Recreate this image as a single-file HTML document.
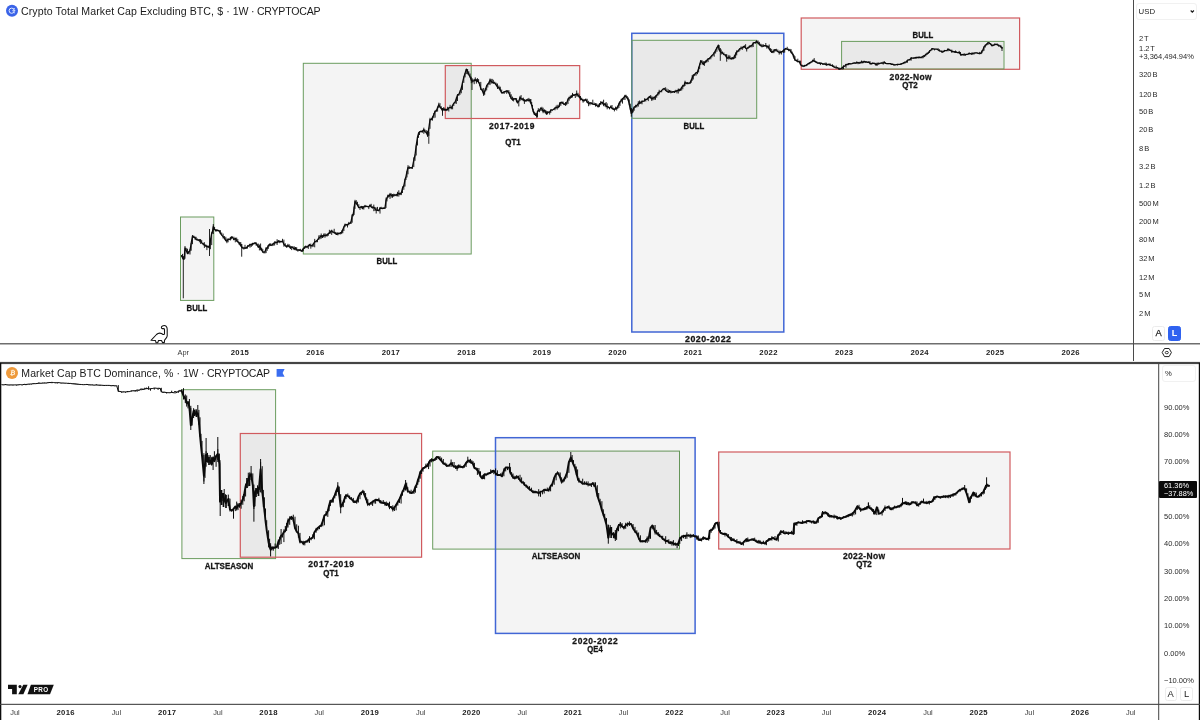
<!DOCTYPE html>
<html lang="en"><head><meta charset="utf-8"><title>Crypto Total Market Cap Excluding BTC vs BTC Dominance</title>
<style>
html,body{margin:0;padding:0;background:#fff}
body{width:1200px;height:720px;position:relative;overflow:hidden;font-family:"Liberation Sans","DejaVu Sans",sans-serif;color:#131722}
#chart{position:absolute;left:0;top:0;width:1200px;height:720px}
.title{position:absolute;left:21px;font-size:10.58px;line-height:14px;white-space:nowrap;color:#1a1a1a}
.ann{position:absolute;width:120px;height:12px;line-height:12px;text-align:center;font-weight:bold;color:#161616;white-space:nowrap;-webkit-text-stroke:0.28px #161616}
.tl{position:absolute;width:60px;text-align:center;font-size:7.4px;line-height:12px;color:#3a3a3a;white-space:nowrap}
.tl.b{font-weight:bold;font-size:7.7px;letter-spacing:.35px;color:#1c1c1c}
.pl{position:absolute;font-size:7.5px;line-height:10px;color:#2a2a2a;white-space:nowrap;word-spacing:-1.1px}
.btn{position:absolute;box-sizing:border-box;border:1px solid #ececec;border-radius:2.5px;background:#fff;font-size:9.4px;text-align:center;color:#1a1a1a}
.btn.on{background:#2f62f0;border-color:#2f62f0;color:#fff;font-weight:bold}
.unit{position:absolute;box-sizing:border-box;border:1px solid #f1f1f1;border-radius:3px;background:transparent;font-size:8.2px;color:#222}
.last{position:absolute;left:1159px;top:481px;width:37.8px;height:16.5px;background:#0a0a0a;border-radius:1px;color:#fff;font-size:7.4px;line-height:7.6px;box-sizing:border-box;padding:1.2px 0 0 5px;white-space:nowrap}
</style></head>
<body>
<svg id="chart" width="1200" height="720" viewBox="0 0 1200 720">
<!-- top pane annotations -->
<g shape-rendering="geometricPrecision">
<rect x="180.5" y="217" width="33.3" height="83.4" fill="rgba(0,0,0,0.045)" stroke="#6a9c5e" stroke-width="1"/>
<rect x="303.3" y="63.3" width="167.9" height="190.7" fill="rgba(0,0,0,0.045)" stroke="#6a9c5e" stroke-width="1"/>
<rect x="445.3" y="65.6" width="134.4" height="52.9" fill="rgba(0,0,0,0.045)" stroke="#d05a5e" stroke-width="1.2"/>
<rect x="631.8" y="33.3" width="152.0" height="298.7" fill="rgba(0,0,0,0.045)" stroke="#4166d5" stroke-width="1.5"/>
<rect x="631.8" y="40.3" width="124.9" height="78.0" fill="rgba(0,0,0,0.045)" stroke="#6a9c5e" stroke-width="1"/>
<rect x="801.2" y="18" width="218.4" height="51.3" fill="rgba(0,0,0,0.045)" stroke="#d05a5e" stroke-width="1.2"/>
<rect x="841.6" y="41.4" width="162.4" height="27.6" fill="rgba(0,0,0,0.045)" stroke="#6a9c5e" stroke-width="1"/>
</g>
<!-- top pane price -->
<polyline points="181.7,255.7 182.5,257.8 183.3,258.9 184.2,258.2 185.0,248.0 186.2,250.6 187.5,253.7 188.8,252.0 190.0,250.4 191.2,243.1 192.5,235.9 193.8,237.2 195.0,237.7 196.1,239.5 197.2,239.8 198.3,240.2 199.4,239.8 200.6,240.9 201.7,243.0 203.1,243.8 204.4,245.2 205.8,245.8 206.9,246.8 208.1,246.5 209.2,247.6 210.4,240.7 211.7,233.1 212.5,231.3 213.3,226.9 214.6,229.6 215.8,230.6 216.9,230.2 218.1,230.5 219.2,230.8 220.4,233.4 221.7,235.1 223.1,236.6 224.4,238.1 225.8,240.6 226.9,241.2 228.1,239.1 229.2,239.3 230.3,239.0 231.4,236.9 232.5,237.5 233.9,239.6 235.3,238.2 236.7,240.7 237.8,241.9 238.9,242.5 240.0,244.4 240.8,245.8 241.7,247.0 242.8,248.1 243.9,248.0 245.0,247.9 246.2,248.0 247.5,246.5 248.8,245.7 250.0,244.5 251.2,245.0 252.5,243.7 253.8,243.4 255.0,242.8 256.1,243.7 257.2,245.2 258.3,247.2 259.4,246.3 260.6,247.8 261.7,250.1 262.8,251.9 263.9,252.1 265.0,251.8 266.1,248.4 267.2,248.3 268.3,245.5 269.6,244.3 270.8,245.3 272.1,244.8 273.3,243.4 274.6,242.9 275.8,242.4 277.1,242.6 278.3,241.0 279.7,241.5 281.1,241.8 282.5,241.1 283.9,244.3 285.3,245.7 286.7,246.9 287.9,245.4 289.2,246.6 290.4,247.9 291.7,246.8 292.9,247.8 294.2,249.1 295.4,247.8 296.7,249.8 297.9,250.0 299.2,249.9 300.4,250.6 301.7,251.0 302.5,249.6 303.3,248.7 304.6,247.2 305.8,246.7 307.1,247.2 308.3,245.8 309.6,244.7 310.8,245.7 312.1,245.7 313.3,244.0 314.7,241.8 316.1,241.3 317.5,239.9 318.8,238.1 320.0,237.2 321.2,235.7 322.5,237.2 323.8,235.1 325.0,235.5 326.1,235.4 327.2,235.0 328.3,233.6 329.4,232.7 330.6,231.7 331.7,230.9 332.9,232.1 334.2,232.4 335.4,233.6 336.7,234.4 337.9,233.6 339.2,233.5 340.4,232.7 341.7,232.5 342.8,229.7 343.9,226.9 345.0,224.9 346.2,224.6 347.5,224.8 348.8,223.5 350.0,223.4 351.1,221.7 352.2,215.5 353.3,214.1 354.1,208.1 355.0,201.4 356.3,203.5 357.5,205.1 358.8,207.7 360.0,207.5 361.3,206.6 362.5,208.6 363.8,206.8 365.0,206.1 366.2,206.4 367.5,206.5 368.8,206.9 370.0,205.1 371.2,206.9 372.5,207.9 373.8,207.2 375.0,208.7 376.2,210.1 377.5,210.3 378.8,210.7 380.0,207.9 381.2,208.5 382.5,208.1 383.8,208.4 385.0,207.9 386.0,200.5 387.0,197.9 388.0,195.6 389.0,196.3 390.0,194.4 391.2,195.1 392.5,195.9 393.8,194.9 395.0,195.1 396.3,195.1 397.5,194.1 398.8,193.4 400.0,194.1 401.3,192.9 402.5,188.1 403.8,186.2 405.0,179.6 406.0,176.5 407.0,171.5 408.0,167.5 409.1,168.0 410.2,167.7 411.4,168.0 412.5,166.9 413.8,160.1 415.0,155.2 416.2,145.5 417.5,137.1 418.5,133.3 419.5,131.8 420.9,131.4 422.4,131.5 423.8,129.6 425.0,131.7 426.3,132.5 427.5,135.3 428.8,128.7 430.0,119.7 431.3,119.5 432.5,117.4 433.8,114.9 435.1,111.0 436.3,111.1 437.6,107.4 438.8,104.8 440.0,107.0 441.3,108.6 442.5,110.6 443.8,108.8 445.0,110.1 446.3,109.4 447.6,109.6 448.8,108.0 450.1,107.3 451.3,107.9 452.6,105.4 453.8,103.2 455.1,102.0 456.3,98.7 457.5,95.0 458.8,94.3 460.0,91.8 461.3,88.1 462.5,82.7 463.8,77.3 465.1,73.1 466.3,69.1 467.6,71.4 468.8,74.3 470.1,76.9 471.3,80.4 472.8,81.1 474.2,80.6 475.3,79.8 476.4,81.2 477.5,80.1 478.6,82.5 479.7,84.3 480.8,88.7 482.2,90.3 483.7,94.2 484.7,91.3 485.7,88.6 486.7,85.6 487.8,84.0 488.9,83.3 490.0,80.0 491.1,81.2 492.2,82.4 493.3,82.4 494.7,83.0 496.1,84.9 497.5,87.1 498.9,87.4 500.3,90.1 501.7,92.9 502.9,92.7 504.2,91.7 505.4,91.8 506.7,90.9 507.8,91.6 508.9,93.0 510.0,95.6 511.2,98.6 512.5,99.8 513.6,99.1 514.7,98.9 515.8,98.6 516.6,101.2 517.5,102.9 518.8,101.1 520.0,97.4 521.1,99.1 522.2,99.0 523.3,99.3 524.4,100.8 525.6,100.3 526.7,100.0 527.8,99.9 528.9,100.5 530.0,99.8 530.9,103.1 531.7,105.3 532.5,108.8 533.3,111.8 534.4,114.1 535.6,114.9 536.7,116.0 537.5,111.3 538.3,110.3 539.5,110.1 540.8,108.2 541.9,108.8 543.1,111.4 544.2,110.1 545.3,111.7 546.4,113.8 547.5,112.2 548.6,112.2 549.7,112.2 550.8,110.0 552.2,109.9 553.6,109.5 555.0,108.0 556.1,107.7 557.2,107.5 558.3,107.0 559.5,104.6 560.8,102.4 561.9,102.3 563.1,103.4 564.2,104.5 565.5,103.8 566.7,103.0 568.0,99.4 569.2,97.7 570.3,97.3 571.4,96.6 572.5,94.8 573.9,95.4 575.3,94.5 576.7,93.9 578.0,95.3 579.2,96.7 580.5,98.7 581.7,99.3 583.1,100.8 584.4,100.2 585.8,99.7 587.2,102.1 588.6,103.6 590.0,102.8 591.4,103.1 592.8,104.1 594.2,104.3 595.5,104.7 596.7,105.4 598.1,106.6 599.4,104.9 600.8,102.9 602.2,102.3 603.6,104.6 605.0,103.7 606.1,106.1 607.2,106.7 608.3,107.2 609.5,108.1 610.8,106.7 612.0,108.2 613.3,109.2 614.4,109.3 615.6,108.1 616.7,108.3 617.8,106.4 618.9,104.2 620.0,101.9 621.2,100.4 622.5,98.5 623.8,97.9 625.0,95.8 626.1,96.6 627.2,98.1 628.3,100.0 629.3,104.4 630.3,109.0 631.3,113.3 632.3,111.5 633.2,109.3 634.2,107.0 635.6,106.4 636.9,105.5 638.3,103.5 639.5,102.8 640.8,102.8 642.0,101.5 643.3,101.1 644.5,100.8 645.8,99.3 647.0,99.4 648.3,97.7 649.5,96.5 650.7,97.5 651.8,99.1 653.0,98.0 654.2,97.9 655.5,96.2 656.7,95.3 658.0,93.6 659.2,91.8 660.5,91.7 661.7,90.4 663.0,89.1 664.2,88.5 665.6,90.5 666.9,91.3 668.3,92.3 669.5,91.3 670.8,91.8 672.0,92.2 673.3,91.6 674.5,91.9 675.8,91.2 677.0,91.0 678.3,89.9 679.4,90.7 680.6,89.1 681.7,87.4 682.8,85.9 683.9,85.7 685.0,82.4 686.2,83.2 687.5,83.5 688.8,83.1 690.0,82.9 691.1,80.6 692.2,78.0 693.3,75.3 694.7,74.4 696.1,72.8 697.5,72.0 698.6,68.4 699.7,64.6 700.8,60.8 702.0,62.4 703.3,64.4 704.4,62.4 705.6,61.6 706.7,60.8 708.1,58.8 709.4,58.3 710.8,56.9 711.9,55.4 713.1,54.5 714.2,52.7 715.6,50.2 716.9,47.9 718.3,45.4 719.1,49.4 720.0,51.0 721.2,52.7 722.5,53.0 723.9,54.6 725.3,55.0 726.7,57.7 727.8,58.3 728.9,56.9 730.0,58.3 731.1,59.0 732.2,57.8 733.3,58.7 734.4,56.3 735.6,54.4 736.7,52.1 737.8,51.1 738.9,49.8 740.0,48.5 741.1,48.1 742.2,47.9 743.3,46.6 744.4,46.5 745.6,47.9 746.7,48.9 748.1,47.4 749.4,46.9 750.8,45.8 752.0,45.3 753.2,43.2 754.3,42.6 755.5,42.5 756.7,41.6 758.1,42.9 759.4,44.4 760.8,45.6 762.0,46.2 763.3,46.0 764.5,45.7 765.8,45.6 766.9,46.8 768.1,46.4 769.2,48.9 770.5,50.9 771.7,52.0 772.8,51.8 773.9,50.9 775.0,49.6 776.4,50.7 777.8,51.5 779.2,52.6 780.3,52.6 781.4,51.9 782.5,51.4 783.6,50.5 784.7,49.4 785.8,48.5 787.2,49.3 788.6,49.5 790.0,50.4 791.1,52.2 792.2,53.7 793.3,55.5 794.1,57.8 795.0,59.9 796.4,60.6 797.8,61.4 799.2,61.6 800.6,64.7 802.0,65.9 803.2,66.2 804.5,65.5 805.8,65.7 807.0,64.5 808.2,63.7 809.4,63.1 810.6,62.2 811.8,61.9 813.0,60.1 814.2,61.2 815.5,61.8 816.8,62.6 818.0,63.1 819.2,63.1 820.4,63.6 821.6,63.2 822.8,64.2 824.0,63.8 825.2,64.2 826.4,65.0 827.6,64.3 828.8,64.5 830.0,64.8 831.2,65.3 832.5,65.7 833.8,66.8 835.0,67.5 836.2,67.9 837.4,67.6 838.6,68.8 839.8,69.0 841.0,68.6 842.2,67.7 843.5,66.4 844.8,66.1 846.0,64.5 847.2,64.6 848.4,63.9 849.6,63.6 850.8,63.9 852.0,63.7 853.2,63.2 854.4,62.8 855.6,63.2 856.8,62.7 858.0,62.7 859.2,62.9 860.4,62.6 861.6,61.7 862.8,62.5 864.0,61.4 865.2,62.0 866.4,61.8 867.6,62.3 868.8,62.0 870.0,63.3 871.2,63.8 872.4,63.1 873.6,63.3 874.8,63.5 876.0,64.6 877.2,63.9 878.4,63.8 879.6,63.4 880.8,63.2 882.0,62.8 883.2,63.1 884.4,62.7 885.6,63.3 886.8,63.6 888.0,63.7 889.2,63.7 890.4,63.7 891.6,64.3 892.8,64.2 894.0,64.9 895.2,64.9 896.4,64.6 897.6,64.4 898.8,64.3 900.0,64.4 901.2,63.8 902.5,63.4 903.8,62.8 905.0,62.1 906.2,62.0 907.5,60.2 908.8,59.8 910.0,59.5 911.2,58.0 912.4,58.2 913.6,58.1 914.8,57.8 916.0,57.5 917.2,57.3 918.4,57.5 919.6,57.4 920.8,57.7 922.0,57.0 923.2,56.2 924.5,55.7 925.8,54.5 927.0,53.8 928.2,52.9 929.5,51.1 930.8,50.2 932.0,48.7 933.2,48.9 934.5,49.2 935.8,49.2 937.0,49.1 938.2,50.0 939.5,50.9 940.8,51.1 942.0,52.0 943.2,51.8 944.4,50.6 945.6,50.7 946.8,50.6 948.0,49.3 949.2,50.0 950.5,50.3 951.8,51.5 953.0,51.5 954.2,52.0 955.5,51.7 956.8,52.3 958.0,52.6 959.2,52.5 960.5,54.3 961.8,54.7 963.0,54.7 964.2,55.0 965.5,54.5 966.8,54.4 968.0,54.1 969.2,53.3 970.4,53.7 971.6,54.2 972.8,53.3 974.0,53.2 975.4,52.8 976.8,52.8 978.2,53.3 979.6,53.7 981.0,53.1 982.0,51.1 983.0,49.8 984.0,46.9 985.3,45.3 986.7,44.3 988.0,42.7 989.3,43.2 990.7,44.2 992.0,45.7 993.3,45.3 994.7,44.3 996.0,44.4 997.3,44.7 998.7,45.6 1000.0,46.0 1001.0,47.0 1002.0,48.0" fill="none" stroke="#0b0b0b" stroke-width="1.3" stroke-linejoin="round" stroke-linecap="round"/>
<path d="M181.7 255.3V257.0M182.5 253.9V258.3M183.3 256.7V259.9M184.2 258.1V259.9M185.0 246.0V258.7M186.2 247.9V250.9M187.5 248.7V253.7M188.8 251.1V254.2M190.0 248.9V254.5M191.2 243.0V250.7M192.5 235.2V244.2M193.8 235.6V238.0M195.0 236.6V239.7M196.1 236.8V239.5M197.2 238.4V240.0M198.3 239.4V241.0M199.4 239.4V242.3M200.6 239.0V243.9M201.7 240.1V243.0M203.1 242.7V245.1M204.4 242.2V247.9M205.8 244.4V246.8M206.9 245.0V250.1M208.1 246.2V247.1M209.2 245.3V248.1M210.4 238.6V249.2M211.7 232.6V245.1M212.5 230.3V233.5M213.3 225.7V234.0M214.6 226.9V230.0M215.8 229.0V231.6M216.9 229.4V231.4M218.1 230.2V230.6M219.2 230.3V231.9M220.4 230.1V233.6M221.7 232.5V235.3M223.1 233.6V238.5M224.4 236.0V239.4M225.8 236.8V241.0M226.9 238.6V243.2M228.1 238.7V242.3M229.2 238.9V239.5M230.3 237.0V240.5M231.4 236.9V239.3M232.5 236.5V237.6M233.9 236.7V240.1M235.3 238.1V242.3M236.7 237.6V241.5M237.8 239.0V242.3M238.9 241.7V244.5M240.0 242.0V245.3M240.8 242.2V245.9M241.7 244.2V247.9M242.8 246.7V248.2M243.9 247.9V249.6M245.0 244.8V248.9M246.2 247.1V248.6M247.5 245.2V248.6M248.8 245.0V246.9M250.0 243.8V247.7M251.2 243.5V247.0M252.5 242.8V245.7M253.8 242.9V244.8M255.0 242.7V243.9M256.1 242.1V245.7M257.2 243.7V245.6M258.3 243.6V247.5M259.4 244.6V250.4M260.6 243.5V250.3M261.7 247.8V250.6M262.8 248.9V252.8M263.9 251.6V253.4M265.0 251.7V253.4M266.1 247.0V253.1M267.2 248.3V250.8M268.3 245.2V248.9M269.6 243.8V246.4M270.8 243.2V245.8M272.1 244.7V246.1M273.3 243.3V245.7M274.6 241.3V245.5M275.8 241.4V243.4M277.1 239.2V245.0M278.3 240.1V242.7M279.7 240.4V243.2M281.1 240.9V241.8M282.5 238.8V242.2M283.9 239.6V246.7M285.3 243.3V246.0M286.7 245.1V247.5M287.9 243.8V247.2M289.2 244.3V247.1M290.4 245.7V249.0M291.7 246.7V250.1M292.9 246.3V248.0M294.2 246.3V250.1M295.4 247.5V250.3M296.7 247.2V250.5M297.9 249.8V251.7M299.2 249.4V250.7M300.4 248.8V250.7M301.7 250.3V251.8M302.5 249.3V251.8M303.3 248.3V251.2M304.6 246.6V249.0M305.8 245.5V248.2M307.1 246.4V247.6M308.3 244.8V248.9M309.6 243.9V246.4M310.8 243.6V248.7M312.1 245.1V247.2M313.3 243.2V246.7M314.7 238.9V247.3M316.1 240.7V242.4M317.5 239.8V242.2M318.8 235.4V240.0M320.0 235.1V239.2M321.2 233.5V238.7M322.5 235.0V237.4M323.8 233.5V237.3M325.0 233.3V237.7M326.1 233.9V236.4M327.2 233.9V236.5M328.3 233.0V235.8M329.4 229.8V234.0M330.6 230.6V233.7M331.7 229.7V234.9M332.9 230.6V232.7M334.2 228.8V233.6M335.4 231.9V233.6M336.7 232.4V235.0M337.9 232.1V235.4M339.2 233.2V234.2M340.4 232.5V234.4M341.7 230.4V234.1M342.8 229.3V233.2M343.9 226.7V231.0M345.0 223.6V227.1M346.2 223.9V225.5M347.5 224.1V227.5M348.8 221.9V225.3M350.0 223.4V223.8M351.1 221.4V224.0M352.2 214.2V222.7M353.3 213.3V216.3M354.1 206.6V214.9M355.0 199.8V208.9M356.3 200.2V204.0M357.5 201.8V205.4M358.8 204.2V207.8M360.0 207.3V210.0M361.3 205.9V207.7M362.5 206.0V208.7M363.8 205.9V209.6M365.0 204.9V207.6M366.2 205.7V206.4M367.5 206.1V206.9M368.8 206.3V209.1M370.0 204.6V206.9M371.2 203.8V207.0M372.5 206.3V208.1M373.8 204.6V211.2M375.0 207.0V211.0M376.2 207.5V213.5M377.5 206.9V210.5M378.8 209.7V211.1M380.0 207.2V213.6M381.2 206.8V209.0M382.5 208.0V209.2M383.8 207.3V209.0M385.0 207.6V209.0M386.0 197.6V207.9M387.0 197.7V201.4M388.0 194.5V198.0M389.0 194.8V196.5M390.0 192.9V198.9M391.2 193.3V197.6M392.5 194.0V197.8M393.8 193.7V196.9M395.0 194.1V196.0M396.3 193.9V196.3M397.5 191.8V196.4M398.8 190.3V196.6M400.0 192.6V195.1M401.3 192.6V195.1M402.5 186.4V193.0M403.8 184.8V189.8M405.0 178.8V186.5M406.0 176.5V180.0M407.0 171.1V177.4M408.0 165.2V174.3M409.1 165.9V169.0M410.2 167.6V168.1M411.4 167.0V168.1M412.5 165.9V168.9M413.8 157.4V167.1M415.0 154.6V160.8M416.2 145.4V155.5M417.5 135.9V145.5M418.5 132.4V137.9M419.5 131.5V135.0M420.9 130.7V132.2M422.4 130.4V132.6M423.8 127.7V133.8M425.0 129.6V132.4M426.3 130.2V133.5M427.5 130.9V136.9M428.8 127.9V135.9M430.0 117.8V128.8M431.3 118.4V120.1M432.5 116.6V120.6M433.8 113.0V118.2M435.1 111.0V117.7M436.3 109.5V111.5M437.6 106.6V111.6M438.8 102.7V108.2M440.0 103.2V107.1M441.3 106.3V108.9M442.5 108.1V112.2M443.8 107.0V110.6M445.0 108.5V110.8M446.3 109.0V111.1M447.6 106.8V110.4M448.8 107.6V111.5M450.1 104.8V108.1M451.3 107.2V109.3M452.6 105.3V109.3M453.8 103.2V106.0M455.1 102.0V103.6M456.3 97.6V103.9M457.5 94.1V101.0M458.8 94.1V96.0M460.0 90.5V94.8M461.3 87.7V93.3M462.5 82.6V89.9M463.8 76.4V82.9M465.1 73.0V77.4M466.3 69.1V74.1M467.6 69.0V74.4M468.8 71.3V75.4M470.1 73.5V77.6M471.3 76.7V83.2M472.8 79.1V82.6M474.2 78.8V84.2M475.3 77.4V81.1M476.4 78.9V83.6M477.5 78.2V82.0M478.6 79.1V83.0M479.7 82.1V86.1M480.8 81.9V90.0M482.2 88.5V90.6M483.7 88.0V96.0M484.7 90.9V94.8M485.7 88.2V91.3M486.7 84.9V90.3M487.8 83.4V87.5M488.9 81.7V84.7M490.0 78.5V85.1M491.1 78.9V83.7M492.2 78.9V83.4M493.3 79.8V84.0M494.7 81.7V83.5M496.1 82.7V85.1M497.5 83.5V89.0M498.9 85.5V89.2M500.3 86.7V90.9M501.7 89.6V93.2M502.9 92.6V93.7M504.2 91.1V93.9M505.4 90.7V92.0M506.7 90.5V93.8M507.8 90.1V92.4M508.9 90.1V93.3M510.0 91.9V97.0M511.2 94.3V98.8M512.5 96.6V100.6M513.6 97.9V101.4M514.7 98.0V99.3M515.8 98.3V99.3M516.6 98.3V101.9M517.5 100.3V102.9M518.8 100.8V106.4M520.0 95.9V101.1M521.1 95.1V99.2M522.2 98.4V100.5M523.3 97.6V101.2M524.4 99.1V103.9M525.6 100.1V101.7M526.7 99.5V101.7M527.8 98.5V101.1M528.9 97.9V101.6M530.0 99.1V102.6M530.9 99.0V103.9M531.7 102.0V106.0M532.5 104.9V109.2M533.3 108.6V112.0M534.4 111.6V115.0M535.6 112.8V115.8M536.7 113.0V117.8M537.5 111.2V117.4M538.3 108.2V111.8M539.5 110.1V112.2M540.8 107.5V111.1M541.9 106.8V110.8M543.1 107.7V113.2M544.2 109.5V112.6M545.3 109.9V113.4M546.4 110.7V114.8M547.5 111.4V114.4M548.6 111.8V113.2M549.7 111.5V114.6M550.8 109.5V112.9M552.2 109.8V111.1M553.6 108.8V110.0M555.0 107.6V110.3M556.1 105.7V108.3M557.2 104.8V109.6M558.3 106.0V108.2M559.5 102.3V107.2M560.8 102.3V105.9M561.9 101.7V104.1M563.1 101.6V103.9M564.2 103.1V104.8M565.5 102.0V105.9M566.7 102.5V105.2M568.0 98.4V104.0M569.2 96.6V100.7M570.3 95.5V98.9M571.4 95.4V98.0M572.5 92.9V97.5M573.9 94.0V95.9M575.3 94.0V98.0M576.7 93.6V96.5M578.0 92.8V96.9M579.2 94.4V97.8M580.5 96.0V100.4M581.7 97.7V100.0M583.1 98.9V102.7M584.4 99.6V101.5M585.8 98.5V100.9M587.2 98.8V103.0M588.6 100.8V106.2M590.0 102.0V105.3M591.4 102.6V104.3M592.8 99.7V104.3M594.2 102.6V104.6M595.5 103.1V106.6M596.7 103.3V106.0M598.1 104.1V107.5M599.4 103.0V107.1M600.8 101.0V105.1M602.2 101.6V104.2M603.6 99.7V106.2M605.0 103.2V106.5M606.1 102.0V107.4M607.2 103.4V109.3M608.3 106.4V107.5M609.5 107.0V109.4M610.8 105.4V108.2M612.0 105.0V109.2M613.3 107.6V110.0M614.4 108.8V111.4M615.6 106.6V109.9M616.7 107.6V110.5M617.8 105.8V108.8M618.9 102.7V108.0M620.0 101.3V105.9M621.2 98.8V102.3M622.5 98.0V103.6M623.8 96.8V100.0M625.0 94.8V100.0M626.1 94.8V96.8M627.2 96.0V98.3M628.3 97.5V101.0M629.3 99.4V105.2M630.3 103.7V109.7M631.3 108.3V113.7M632.3 109.5V113.3M633.2 109.1V112.4M634.2 106.6V110.7M635.6 104.8V107.8M636.9 104.8V107.4M638.3 101.2V106.6M639.5 100.5V104.3M640.8 101.3V103.8M642.0 100.3V104.3M643.3 101.0V101.7M644.5 98.3V101.3M645.8 98.9V101.5M647.0 98.8V99.7M648.3 97.5V101.1M649.5 96.1V98.2M650.7 95.0V98.5M651.8 96.4V101.0M653.0 96.6V100.2M654.2 96.8V99.9M655.5 95.7V99.8M656.7 94.8V97.7M658.0 92.0V95.6M659.2 89.8V94.4M660.5 91.0V92.0M661.7 90.4V92.3M663.0 88.8V90.4M664.2 87.9V89.3M665.6 87.3V90.6M666.9 88.6V91.8M668.3 89.4V92.4M669.5 90.0V92.6M670.8 90.3V93.4M672.0 91.0V93.0M673.3 91.2V92.3M674.5 90.7V93.0M675.8 89.8V92.2M677.0 90.0V93.4M678.3 88.5V93.5M679.4 88.8V90.8M680.6 88.9V90.9M681.7 87.2V90.5M682.8 84.8V89.2M683.9 85.0V86.8M685.0 80.7V86.0M686.2 82.1V84.3M687.5 82.1V84.1M688.8 82.7V84.2M690.0 82.5V84.0M691.1 79.8V83.0M692.2 75.2V80.8M693.3 74.3V79.5M694.7 73.9V76.1M696.1 72.4V75.7M697.5 70.8V74.2M698.6 66.8V72.4M699.7 63.6V69.2M700.8 60.0V64.8M702.0 60.2V62.4M703.3 61.1V65.1M704.4 61.5V65.9M705.6 60.4V63.2M706.7 59.7V62.5M708.1 58.4V62.1M709.4 58.0V59.5M710.8 56.3V59.3M711.9 55.4V57.4M713.1 54.4V55.7M714.2 52.3V56.7M715.6 49.7V53.5M716.9 47.1V51.8M718.3 44.6V48.2M719.1 45.0V50.4M720.0 48.9V51.9M721.2 49.5V54.6M722.5 51.5V53.5M723.9 52.5V54.7M725.3 54.1V56.2M726.7 54.0V58.3M727.8 56.7V58.4M728.9 54.9V59.6M730.0 55.7V58.4M731.1 57.9V59.2M732.2 57.4V59.5M733.3 57.7V58.8M734.4 54.8V58.7M735.6 52.4V58.2M736.7 50.3V55.4M737.8 51.0V52.2M738.9 49.7V51.9M740.0 48.4V50.5M741.1 46.4V49.0M742.2 47.4V50.0M743.3 46.6V48.3M744.4 45.4V47.8M745.6 44.2V48.5M746.7 47.9V51.5M748.1 47.4V49.0M749.4 45.4V47.6M750.8 45.6V47.3M752.0 44.7V47.3M753.2 42.2V47.0M754.3 42.2V43.2M755.5 41.6V43.6M756.7 40.2V43.1M758.1 40.5V44.3M759.4 41.9V45.5M760.8 43.7V46.3M762.0 44.2V47.4M763.3 44.3V46.8M764.5 45.0V46.4M765.8 43.0V46.8M766.9 45.0V48.7M768.1 45.7V48.0M769.2 44.5V49.2M770.5 48.2V51.4M771.7 48.9V53.0M772.8 50.7V53.1M773.9 49.2V53.1M775.0 49.3V51.7M776.4 48.8V50.7M777.8 49.5V52.1M779.2 50.6V54.6M780.3 50.7V53.1M781.4 51.2V54.5M782.5 50.7V52.3M783.6 49.4V52.9M784.7 48.5V52.6M785.8 48.3V49.7M787.2 46.8V49.9M788.6 48.8V51.2M790.0 48.9V50.7M791.1 49.2V53.2M792.2 51.6V53.8M793.3 53.6V57.2M794.1 55.2V58.9M795.0 56.3V60.8M796.4 59.7V61.4M797.8 58.7V62.5M799.2 60.5V62.4M800.6 60.7V64.9M802.0 64.6V66.3M803.2 65.5V67.1M804.5 65.0V66.8M805.8 64.9V66.1M807.0 64.4V65.8M808.2 63.1V64.6M809.4 62.4V64.3M810.6 62.1V63.5M811.8 61.4V62.6M813.0 59.9V61.9M814.2 58.1V61.6M815.5 60.7V62.3M816.8 61.3V62.8M818.0 62.5V63.8M819.2 62.1V63.5M820.4 62.4V65.1M821.6 63.2V63.8M822.8 63.1V64.6M824.0 63.6V64.4M825.2 62.6V64.7M826.4 62.7V65.5M827.6 64.1V65.2M828.8 63.7V64.9M830.0 63.3V65.9M831.2 64.8V66.1M832.5 64.3V66.9M833.8 65.4V67.4M835.0 66.4V67.6M836.2 65.6V68.3M837.4 67.6V68.1M838.6 67.6V69.4M839.8 67.6V69.8M841.0 68.5V69.2M842.2 67.5V69.6M843.5 65.3V69.2M844.8 65.8V66.6M846.0 64.4V67.7M847.2 64.2V65.1M848.4 63.0V65.2M849.6 63.2V64.3M850.8 63.6V64.2M852.0 63.3V64.0M853.2 63.2V64.0M854.4 62.8V63.3M855.6 62.7V63.6M856.8 61.3V63.6M858.0 62.4V64.2M859.2 61.8V63.9M860.4 62.1V63.5M861.6 60.5V63.4M862.8 61.2V63.3M864.0 60.8V62.7M865.2 61.1V62.7M866.4 61.5V62.3M867.6 61.8V62.6M868.8 61.8V63.1M870.0 61.2V64.4M871.2 63.3V64.5M872.4 62.8V64.2M873.6 62.8V63.8M874.8 62.9V64.2M876.0 62.9V65.9M877.2 62.6V65.8M878.4 62.5V64.4M879.6 63.2V64.2M880.8 62.7V63.5M882.0 62.8V63.7M883.2 61.5V64.6M884.4 61.2V63.1M885.6 62.3V63.6M886.8 63.2V63.7M888.0 63.5V64.2M889.2 63.6V63.7M890.4 63.4V64.3M891.6 63.6V64.3M892.8 63.8V64.9M894.0 63.9V65.5M895.2 64.5V65.1M896.4 64.2V65.0M897.6 63.9V65.6M898.8 64.2V64.8M900.0 64.1V64.6M901.2 63.2V64.9M902.5 63.3V64.2M903.8 62.1V64.1M905.0 61.8V63.6M906.2 62.0V62.3M907.5 60.2V62.7M908.8 59.7V60.4M910.0 59.3V60.3M911.2 57.3V60.6M912.4 57.9V58.2M913.6 57.5V58.6M914.8 57.4V58.5M916.0 57.0V58.9M917.2 57.1V57.8M918.4 56.7V58.2M919.6 56.6V57.6M920.8 56.7V58.0M922.0 56.3V58.4M923.2 55.7V58.2M924.5 55.3V57.1M925.8 53.7V56.4M927.0 52.6V55.0M928.2 52.2V54.0M929.5 50.3V53.0M930.8 50.1V51.1M932.0 48.3V50.3M933.2 48.6V49.2M934.5 48.9V50.4M935.8 48.9V49.2M937.0 49.0V49.6M938.2 48.3V50.1M939.5 49.3V51.2M940.8 50.8V51.4M942.0 50.4V52.7M943.2 51.4V52.1M944.4 49.9V51.8M945.6 50.6V51.0M946.8 50.3V50.9M948.0 48.2V51.3M949.2 48.8V50.6M950.5 49.9V50.7M951.8 49.6V52.8M953.0 50.9V51.9M954.2 51.0V52.7M955.5 50.5V53.0M956.8 51.6V52.9M958.0 52.3V53.2M959.2 50.9V53.3M960.5 52.0V55.7M961.8 53.8V55.9M963.0 53.9V55.0M964.2 53.2V55.4M965.5 54.4V55.7M966.8 54.0V54.9M968.0 53.8V54.5M969.2 52.6V54.4M970.4 53.0V53.7M971.6 52.6V54.4M972.8 52.5V54.6M974.0 52.7V54.6M975.4 52.7V53.3M976.8 52.5V53.2M978.2 52.6V53.8M979.6 51.9V54.1M981.0 52.7V54.1M982.0 50.4V53.2M983.0 49.3V51.3M984.0 46.6V50.7M985.3 44.6V47.5M986.7 43.5V45.5M988.0 42.6V45.0M989.3 42.3V43.3M990.7 43.0V44.4M992.0 44.0V46.3M993.3 45.2V46.1M994.7 43.6V45.7M996.0 43.8V45.1M997.3 43.5V45.1M998.7 44.4V46.6M1000.0 44.9V46.2M1001.0 45.4V47.4M1002.0 46.8V48.4M183.3 256.0V298.3M209.5 229.0V256.0M213.3 224.0V230.0M241.7 244.0V256.7M428.8 132.0V143.8M442.5 108.0V115.8M472.0 78.0V90.0M631.3 108.0V116.7M720.3 48.0V60.8M726.7 55.0V61.7M576.7 90.5V95.0M1002.0 47.0V51.0" stroke="#0b0b0b" stroke-width="0.9" fill="none"/>
<!-- bottom pane annotations -->
<g>
<rect x="181.9" y="389.7" width="93.7" height="168.9" fill="rgba(0,0,0,0.045)" stroke="#6a9c5e" stroke-width="1"/>
<rect x="240.3" y="433.5" width="181.3" height="123.7" fill="rgba(0,0,0,0.045)" stroke="#d05a5e" stroke-width="1.2"/>
<rect x="432.7" y="451.1" width="246.8" height="98.0" fill="rgba(0,0,0,0.045)" stroke="#6a9c5e" stroke-width="1"/>
<rect x="495.5" y="437.7" width="199.6" height="195.7" fill="rgba(0,0,0,0.045)" stroke="#4166d5" stroke-width="1.5"/>
<rect x="718.7" y="452" width="291.3" height="97.0" fill="rgba(0,0,0,0.045)" stroke="#d05a5e" stroke-width="1.2"/>
</g>
<polyline points="1.7,384.7 3.6,384.9 5.5,384.6 7.3,384.9 9.2,385.0 11.1,384.9 12.9,385.0 14.8,384.9 16.7,384.9 18.5,384.8 20.4,384.6 22.2,385.0 24.1,384.3 25.9,384.5 27.8,384.2 29.6,384.0 31.5,384.0 33.3,383.6 35.2,383.7 37.0,383.5 38.9,383.1 40.7,383.3 42.6,383.1 44.4,383.0 46.3,383.0 48.1,382.6 50.0,382.5 51.9,382.7 53.7,382.5 55.6,382.9 57.4,382.6 59.3,382.7 61.1,383.1 63.0,383.0 64.8,383.2 66.7,383.2 68.5,383.5 70.4,383.4 72.2,383.8 74.1,383.7 75.9,384.1 77.8,384.2 79.6,384.4 81.5,384.5 83.3,384.7 85.2,384.6 87.0,384.4 88.9,384.9 90.7,384.8 92.6,385.0 94.4,385.2 96.3,384.9 98.1,385.1 100.0,385.3 101.9,385.2 103.7,385.5 105.6,385.4 107.4,385.4 109.3,385.4 111.1,385.8 113.0,385.6 114.8,385.8 116.7,385.8 118.3,391.3 120.0,391.4 121.7,392.0 123.6,391.9 125.6,391.9 127.5,391.7 129.4,391.6 131.4,390.9 133.3,390.8 135.2,390.8 137.1,390.0 139.0,390.3 141.0,389.0 142.9,389.6 144.8,388.9 146.7,388.3 148.6,389.0 150.5,388.7 152.4,388.5 154.3,388.0 156.2,388.2 158.1,389.0 160.0,388.1 161.3,391.8 163.0,392.3 164.8,392.2 166.5,392.7 168.3,392.7 170.0,392.8 171.7,392.3 173.3,392.8 175.0,391.5 176.7,392.5 178.4,391.2 180.0,390.7 181.7,391.0" fill="none" stroke="#0b0b0b" stroke-width="1" stroke-linejoin="round"/>
<polyline points="181.7,391.0 183.5,395.9 185.3,398.6 186.7,403.3 188.0,402.2 189.4,407.1 190.8,425.2 192.2,417.8 193.6,411.0 195.0,413.2 196.4,414.2 197.8,413.3 198.9,421.7 200.0,435.3 201.0,445.9 202.0,455.6 203.9,475.8 205.0,464.3 206.1,454.6 207.5,457.7 208.9,461.5 210.3,460.5 211.7,464.3 213.1,457.8 214.4,461.2 216.1,456.1 217.8,453.9 219.4,463.8 220.0,501.3 221.4,497.9 222.8,494.1 224.2,499.6 225.6,502.9 226.9,500.7 228.3,499.4 230.0,509.5 231.7,510.5 233.5,508.9 235.3,506.7 236.7,508.3 238.0,505.1 239.4,506.1 241.1,503.5 242.8,499.4 244.2,494.3 245.6,486.2 246.9,483.0 248.3,479.6 249.7,475.3 251.1,474.4 252.8,485.5 253.9,506.1 255.0,493.0 256.1,490.5 257.5,489.0 258.9,489.4 260.6,469.2 262.2,491.3 263.3,500.8 264.4,510.2 265.5,521.0 266.7,530.3 268.6,542.5 269.6,547.0 270.6,549.8 272.0,547.6 273.3,548.1 275.1,547.4 276.9,546.8 278.3,541.9 279.7,539.5 281.1,535.6 282.5,534.7 283.9,531.9 285.3,530.8 286.6,526.8 288.0,521.1 289.7,518.9 291.4,516.8 293.3,519.1 295.0,528.0 296.7,531.6 298.4,533.4 300.0,541.7 301.6,541.7 303.3,543.5 304.8,542.2 306.3,541.4 307.8,540.8 309.5,538.7 311.1,538.5 312.8,537.2 314.4,532.3 316.1,529.9 317.8,528.0 319.5,526.5 321.1,525.7 322.8,521.2 324.4,515.6 326.1,514.2 327.8,511.0 329.1,505.5 330.4,500.8 331.9,501.6 333.3,498.1 334.8,495.1 336.2,491.1 337.8,487.0 339.3,495.4 340.7,506.9 342.0,505.1 343.3,502.1 344.6,498.5 346.0,495.5 347.8,495.9 349.6,497.7 351.5,499.2 353.3,501.2 355.0,502.2 356.7,501.7 358.4,496.8 360.0,493.6 361.4,492.5 362.9,491.4 364.2,494.5 365.6,497.9 366.7,500.7 367.8,504.1 369.5,504.0 371.1,502.8 372.6,501.9 374.1,500.8 375.6,499.7 377.2,500.0 378.9,500.3 380.4,502.4 381.8,502.7 383.3,503.1 384.8,502.8 386.3,505.1 387.8,503.6 389.5,507.0 391.1,507.0 392.8,509.3 394.4,507.5 396.1,505.0 397.8,502.0 399.5,499.0 401.1,495.5 402.5,491.6 403.8,489.4 405.6,484.1 406.7,487.3 407.8,491.3 409.5,491.7 411.1,493.1 412.6,492.5 414.0,490.9 415.4,486.7 416.7,484.4 417.8,480.4 418.9,477.4 420.2,472.4 421.6,470.4 423.0,468.2 424.4,467.6 425.9,466.4 427.3,465.7 428.6,463.5 430.0,460.7 431.6,459.5 433.3,460.6 435.0,459.2 436.7,457.0 438.4,457.2 440.0,459.3 441.6,461.0 443.3,463.5 445.0,464.2 446.7,465.9 448.2,465.8 449.6,465.0 451.1,463.2 452.6,465.3 454.1,466.8 455.6,466.3 457.1,468.0 458.5,465.6 460.0,466.9 461.5,466.8 462.9,467.2 464.4,465.7 466.1,462.9 467.8,460.8 469.1,460.4 470.5,462.5 471.8,462.1 473.1,464.4 474.4,468.0 475.9,468.6 477.4,470.4 478.9,472.0 480.5,476.4 482.2,478.4 483.4,476.2 484.6,474.2 486.1,474.5 487.7,473.8 489.2,473.2 490.7,472.6 492.3,471.0 493.8,470.7 495.6,473.3 497.4,475.0 498.9,474.9 500.5,475.1 502.0,476.1 503.9,470.8 505.7,467.5 507.5,467.4 509.3,467.9 510.3,472.5 511.6,474.7 513.0,477.3 514.8,478.3 516.7,476.5 518.5,478.0 520.0,480.0 521.6,482.2 523.1,482.7 524.6,485.0 526.2,485.8 527.7,487.4 529.5,489.3 531.4,490.3 533.2,492.3 535.0,492.0 536.9,492.3 538.7,493.2 540.5,491.6 542.4,491.4 544.2,489.7 545.7,490.1 547.3,490.3 548.8,490.0 550.6,486.1 552.4,483.8 554.2,478.0 556.1,473.9 557.5,472.9 558.8,474.6 560.2,477.4 561.6,481.9 563.0,480.8 564.3,479.0 565.7,476.3 567.1,472.4 568.9,462.0 570.8,457.5 572.1,460.9 573.5,464.6 574.9,467.5 576.3,473.1 577.6,477.8 579.0,481.0 580.9,482.0 582.7,483.8 584.5,483.5 586.3,483.6 588.1,484.4 590.0,484.8 591.4,484.4 592.8,483.1 594.1,485.4 595.5,486.6 597.3,495.4 598.7,499.7 600.1,503.6 601.9,510.2 603.3,514.3 604.7,518.4 606.5,525.1 608.3,537.9 610.2,528.0 611.6,534.8 613.5,533.1 615.3,537.8 616.6,530.6 618.5,525.8 620.3,524.2 622.1,526.4 623.9,527.8 625.7,525.2 627.6,524.2 629.4,523.6 631.2,524.2 633.1,528.4 635.0,531.3 636.8,533.4 638.6,537.7 640.4,541.2 642.2,541.2 644.1,541.1 645.6,541.2 647.2,538.7 648.7,538.3 650.5,527.9 652.3,525.7 653.7,528.2 655.1,532.0 656.6,533.1 658.2,534.3 659.7,536.1 661.2,536.6 662.7,539.0 664.2,539.4 665.7,541.1 667.3,540.8 668.8,542.2 670.3,543.1 671.9,542.6 673.4,543.8 675.2,544.0 677.1,544.6 678.5,542.9 679.8,538.8 681.6,536.8 683.5,535.8 685.3,536.1 686.9,535.4 688.5,535.6 690.2,535.7 691.8,535.6 693.4,535.8 695.1,536.5 696.7,536.4 698.3,539.4 700.0,540.1 701.6,539.5 703.3,537.5 705.0,538.5 706.9,539.1 708.7,538.5 709.7,530.9 711.1,530.1 712.5,529.4 713.8,526.9 715.0,524.0 716.2,522.9 717.5,522.8 719.2,530.4 720.5,532.8 721.7,533.3 723.4,534.0 725.0,533.7 726.7,534.8 728.4,537.0 730.0,537.9 731.4,540.2 732.8,539.2 734.2,540.5 735.6,541.2 736.9,541.9 738.3,542.2 740.0,542.9 741.7,544.1 743.4,542.4 745.0,540.6 746.4,539.2 747.8,540.8 749.2,540.1 750.6,539.9 751.9,539.3 753.3,539.6 754.7,540.3 756.1,541.1 757.5,542.3 758.9,541.4 760.3,542.8 761.7,542.7 763.4,543.0 765.0,543.7 766.4,541.4 767.8,540.5 769.2,539.0 770.6,539.4 771.9,538.1 773.3,537.9 775.0,539.3 776.7,539.6 778.3,534.9 779.5,533.9 780.8,531.5 782.2,532.0 783.6,532.8 785.0,533.4 786.7,532.8 788.3,533.3 790.0,533.1 791.6,532.7 793.3,533.8 794.2,523.6 795.6,524.4 796.9,522.9 798.3,522.5 799.7,522.6 801.1,522.7 802.5,523.0 803.9,522.3 805.3,522.3 806.7,521.1 808.4,521.0 810.0,521.3 811.7,521.8 813.4,521.4 815.0,523.0 816.7,522.2 818.3,518.3 820.0,517.2 821.7,516.4 822.5,512.8 823.9,513.0 825.3,512.2 826.7,513.1 828.3,515.5 829.7,516.4 831.1,515.9 832.5,516.6 834.1,516.8 835.8,516.4 837.5,518.6 839.2,517.6 840.8,518.6 842.5,517.9 843.9,517.1 845.3,516.9 846.7,516.1 848.1,515.8 849.4,514.7 850.8,515.0 852.3,513.6 853.9,512.3 855.6,509.5 857.4,506.3 859.0,507.9 860.7,509.9 862.0,509.5 863.3,509.5 864.6,508.5 865.9,508.8 867.2,506.9 868.5,507.0 869.8,508.1 871.1,508.8 872.4,510.4 873.6,511.4 874.9,513.3 876.8,507.4 877.8,510.0 878.8,513.6 880.5,513.4 882.1,511.8 883.5,510.0 885.0,507.9 886.3,507.7 887.6,507.2 888.9,507.1 890.0,508.6 891.2,509.4 893.0,508.1 894.7,507.2 896.3,507.2 898.0,506.3 899.6,505.8 901.0,505.2 902.5,503.0 904.0,503.4 905.4,502.3 906.7,504.1 908.0,503.0 909.3,504.3 910.6,504.1 911.9,502.1 913.2,502.2 914.5,502.5 915.8,503.1 917.1,505.3 918.7,504.5 920.3,503.1 921.9,501.5 923.5,502.5 925.2,502.7 926.8,503.1 928.1,502.7 929.4,501.6 930.7,502.1 932.2,501.2 933.6,498.7 934.9,497.5 936.2,496.7 937.5,496.5 939.1,497.2 940.7,497.2 942.3,496.7 943.9,496.8 945.6,496.4 947.2,496.4 948.8,496.2 950.4,495.5 952.0,495.1 953.3,494.2 954.6,494.7 955.9,493.4 957.3,492.2 958.8,490.7 960.3,489.6 961.8,489.4 963.2,488.2 964.7,488.6 966.6,493.5 967.9,497.7 969.1,502.3 970.3,498.2 971.5,496.4 973.4,492.5 974.8,494.3 976.3,496.6 978.0,496.8 979.8,495.3 981.5,493.5 983.1,492.3 984.3,489.6 985.5,486.8 986.6,484.9 987.8,485.9 989.0,485.7" fill="none" stroke="#0b0b0b" stroke-width="1.9" stroke-linejoin="round" stroke-linecap="round"/>
<path d="M1.7 384.5V384.9M3.6 384.6V385.0M5.5 384.1V385.0M7.3 384.6V385.1M9.2 384.7V385.3M11.1 384.8V385.2M12.9 384.7V385.4M14.8 384.9V385.0M16.7 384.8V385.7M18.5 384.6V385.1M20.4 384.6V384.9M22.2 384.4V385.0M24.1 384.0V385.0M25.9 384.0V385.2M27.8 384.0V384.6M29.6 384.0V384.6M31.5 383.8V384.4M33.3 383.3V384.2M35.2 383.4V383.8M37.0 383.3V383.9M38.9 382.5V383.9M40.7 382.9V383.4M42.6 382.7V383.3M44.4 382.6V383.3M46.3 382.8V383.3M48.1 382.5V383.2M50.0 382.4V382.9M51.9 381.8V383.0M53.7 382.5V382.7M55.6 382.3V383.0M57.4 382.5V383.5M59.3 382.6V383.0M61.1 382.7V383.3M63.0 382.9V383.2M64.8 382.9V383.3M66.7 383.0V383.2M68.5 382.8V383.7M70.4 383.3V383.8M72.2 383.3V384.0M74.1 383.6V384.5M75.9 383.3V384.4M77.8 383.8V384.7M79.6 384.0V384.7M81.5 384.3V384.7M83.3 384.4V384.7M85.2 384.5V384.8M87.0 384.3V384.6M88.9 384.3V385.1M90.7 384.7V385.3M92.6 384.5V385.1M94.4 384.8V385.2M96.3 384.2V385.3M98.1 384.8V385.3M100.0 384.6V385.3M101.9 385.1V385.4M103.7 384.9V385.7M105.6 385.2V385.6M107.4 385.3V385.7M109.3 385.0V385.6M111.1 385.2V385.9M113.0 385.4V386.0M114.8 385.5V386.2M116.7 385.7V386.0M118.3 385.1V391.8M120.0 391.0V391.5M121.7 391.4V392.8M123.6 391.5V392.2M125.6 391.9V392.8M127.5 391.0V392.1M129.4 391.3V391.9M131.4 390.5V391.6M133.3 390.4V391.1M135.2 390.1V391.7M137.1 389.8V391.8M139.0 389.7V390.8M141.0 388.6V390.4M142.9 388.4V389.9M144.8 387.7V389.7M146.7 387.7V389.2M148.6 386.3V389.6M150.5 388.5V390.7M152.4 388.3V388.8M154.3 388.0V389.6M156.2 387.9V388.3M158.1 387.6V389.5M160.0 388.1V389.0M161.3 387.8V392.2M163.0 391.7V393.0M164.8 391.9V392.7M166.5 392.1V393.4M168.3 392.5V393.0M170.0 392.4V392.9M171.7 390.7V392.9M173.3 392.2V392.9M175.0 391.0V393.6M176.7 391.4V393.0M178.4 390.7V392.8M180.0 389.9V391.9M181.7 389.3V391.9M183.5 388.2V399.5M185.3 394.4V403.0M186.7 395.5V406.6M188.0 401.0V408.4M189.4 399.0V410.7M190.8 405.8V425.6M192.2 415.8V425.5M193.6 408.2V418.0M195.0 409.2V413.4M196.4 409.3V416.8M197.8 405.0V415.0M198.9 409.9V424.7M200.0 417.3V436.8M201.0 433.8V446.0M202.0 440.9V456.1M203.9 453.2V481.5M205.0 463.8V477.9M206.1 451.2V466.7M207.5 452.9V462.7M208.9 455.1V462.9M210.3 455.1V464.5M211.7 456.9V465.4M213.1 456.5V470.0M214.4 451.2V461.4M216.1 455.5V466.8M217.8 449.2V462.0M219.4 453.6V466.4M220.0 460.2V502.7M221.4 497.0V501.8M222.8 493.0V501.1M224.2 489.0V500.8M225.6 494.2V503.6M226.9 500.6V503.4M228.3 494.6V501.0M230.0 498.7V511.5M231.7 509.5V511.6M233.5 508.3V518.7M235.3 505.6V511.1M236.7 501.6V510.5M238.0 503.0V510.1M239.4 503.0V507.8M241.1 499.8V508.7M242.8 495.9V504.8M244.2 494.3V501.3M245.6 483.7V496.5M246.9 481.8V487.7M248.3 472.7V486.3M249.7 472.4V479.8M251.1 472.7V475.4M252.8 473.4V488.6M253.9 484.6V509.0M255.0 491.1V506.3M256.1 490.2V494.5M257.5 485.3V493.8M258.9 488.0V492.2M260.6 462.1V492.4M262.2 466.2V493.2M263.3 489.9V507.2M264.4 497.3V512.3M265.5 508.5V522.3M266.7 520.2V530.5M268.6 530.3V547.3M269.6 538.7V547.1M270.6 543.2V551.2M272.0 546.2V550.2M273.3 546.4V550.7M275.1 543.5V548.8M276.9 546.3V548.3M278.3 539.6V548.9M279.7 536.8V544.8M281.1 529.0V544.0M282.5 534.7V537.5M283.9 529.3V542.1M285.3 526.0V532.3M286.6 523.0V530.9M288.0 518.5V527.5M289.7 516.3V524.8M291.4 516.2V520.0M293.3 514.7V521.5M295.0 516.7V528.6M296.7 524.3V532.2M298.4 525.7V537.6M300.0 532.9V543.4M301.6 541.4V541.8M303.3 540.8V545.2M304.8 541.4V545.4M306.3 541.1V542.6M307.8 539.7V542.7M309.5 536.2V542.9M311.1 538.0V540.3M312.8 534.4V538.8M314.4 532.0V539.3M316.1 527.9V532.7M317.8 527.3V530.5M319.5 525.5V529.2M321.1 524.8V527.1M322.8 519.5V526.3M324.4 515.4V525.3M326.1 511.0V516.2M327.8 509.5V516.9M329.1 505.1V511.1M330.4 499.9V506.1M331.9 499.5V502.7M333.3 498.0V502.6M334.8 494.1V498.4M336.2 490.9V495.8M337.8 485.1V492.0M339.3 486.6V495.7M340.7 494.2V507.4M342.0 504.1V507.2M343.3 501.6V507.1M344.6 496.2V502.6M346.0 494.0V499.1M347.8 493.5V496.2M349.6 495.5V499.1M351.5 497.2V499.5M353.3 497.9V503.0M355.0 500.0V502.8M356.7 500.3V503.7M358.4 495.5V502.5M360.0 493.1V499.2M361.4 492.0V495.1M362.9 489.8V492.7M364.2 490.9V494.5M365.6 493.0V499.7M366.7 497.6V502.8M367.8 499.2V506.1M369.5 503.7V505.7M371.1 502.4V504.9M372.6 500.6V505.9M374.1 500.3V503.5M375.6 499.1V503.7M377.2 499.5V501.2M378.9 497.8V500.7M380.4 500.1V503.2M381.8 500.6V503.1M383.3 500.1V503.9M384.8 502.1V505.6M386.3 501.5V505.6M387.8 503.2V505.2M389.5 501.7V509.2M391.1 506.2V507.5M392.8 505.3V511.5M394.4 506.7V511.0M396.1 504.0V510.3M397.8 502.0V505.6M399.5 498.4V502.9M401.1 493.9V503.6M402.5 491.4V495.7M403.8 488.2V492.1M405.6 483.0V490.6M406.7 482.6V488.9M407.8 487.2V492.6M409.5 490.9V493.6M411.1 489.7V493.8M412.6 491.6V493.3M414.0 490.5V493.9M415.4 486.4V492.7M416.7 484.0V488.0M417.8 479.6V484.7M418.9 476.5V482.1M420.2 471.5V478.7M421.6 470.0V474.0M423.0 467.9V471.7M424.4 467.1V468.6M425.9 463.7V468.3M427.3 463.4V467.1M428.6 461.6V469.1M430.0 459.7V466.5M431.6 458.4V462.3M433.3 458.9V460.9M435.0 458.8V460.9M436.7 456.6V460.0M438.4 456.5V458.9M440.0 456.2V459.8M441.6 457.6V462.1M443.3 459.0V463.7M445.0 462.4V464.7M446.7 463.5V466.8M448.2 465.3V466.4M449.6 464.6V466.6M451.1 459.5V467.0M452.6 462.1V465.4M454.1 462.0V467.1M455.6 465.5V469.0M457.1 465.5V470.8M458.5 464.8V468.3M460.0 464.5V468.1M461.5 466.2V467.8M462.9 466.5V468.4M464.4 465.0V467.7M466.1 462.2V467.0M467.8 456.7V463.2M469.1 460.2V462.4M470.5 458.9V462.8M471.8 460.2V463.9M473.1 461.2V464.6M474.4 462.8V468.4M475.9 467.3V469.0M477.4 467.9V474.9M478.9 468.0V473.7M480.5 471.3V476.8M482.2 475.0V478.4M483.4 474.4V479.0M484.6 473.9V479.3M486.1 473.9V476.1M487.7 472.7V475.2M489.2 472.8V474.2M490.7 469.4V473.9M492.3 470.1V473.0M493.8 470.5V474.2M495.6 468.4V475.4M497.4 470.3V475.3M498.9 474.4V475.8M500.5 473.4V475.1M502.0 472.6V477.3M503.9 468.3V476.3M505.7 467.0V471.4M507.5 467.2V470.1M509.3 466.6V469.3M510.3 466.9V474.3M511.6 472.1V476.5M513.0 473.5V478.7M514.8 475.8V479.2M516.7 475.3V478.8M518.5 475.7V479.7M520.0 474.8V481.4M521.6 477.4V483.4M523.1 480.9V483.1M524.6 482.2V485.6M526.2 484.5V487.7M527.7 485.7V488.6M529.5 486.2V490.3M531.4 487.7V491.8M533.2 490.3V492.8M535.0 490.6V492.5M536.9 491.3V492.5M538.7 489.2V496.4M540.5 491.5V496.8M542.4 491.1V494.3M544.2 489.5V493.5M545.7 488.7V490.5M547.3 487.6V490.9M548.8 489.0V491.8M550.6 485.8V491.3M552.4 483.6V486.6M554.2 477.6V484.8M556.1 473.4V480.3M557.5 471.3V474.1M558.8 472.3V474.6M560.2 472.5V477.9M561.6 477.4V483.6M563.0 479.3V482.5M564.3 477.8V481.5M565.7 474.7V479.2M567.1 472.3V477.8M568.9 461.4V472.9M570.8 457.1V462.1M572.1 455.0V461.3M573.5 460.1V465.0M574.9 463.9V467.8M576.3 466.5V475.1M577.6 469.4V480.5M579.0 477.8V482.8M580.9 480.8V482.6M582.7 478.7V483.8M584.5 481.3V484.5M586.3 481.4V485.1M588.1 481.4V486.4M590.0 483.1V485.3M591.4 483.7V487.0M592.8 482.6V484.4M594.1 482.3V487.1M595.5 482.3V488.7M597.3 485.2V496.8M598.7 493.0V501.1M600.1 498.8V504.8M601.9 501.2V511.1M603.3 509.3V516.1M604.7 513.8V519.1M606.5 518.1V527.8M608.3 524.6V538.0M610.2 525.1V538.0M611.6 527.0V535.9M613.5 532.8V538.2M615.3 533.0V538.8M616.6 528.4V539.9M618.5 524.1V531.2M620.3 522.0V528.4M622.1 523.2V527.0M623.9 526.0V529.4M625.7 522.8V528.8M627.6 522.4V526.6M629.4 521.3V526.0M631.2 523.5V524.9M633.1 524.1V529.0M635.0 526.9V532.7M636.8 530.3V534.0M638.6 532.5V539.5M640.4 535.3V542.2M642.2 540.3V542.3M644.1 540.5V541.7M645.6 539.5V542.7M647.2 536.4V542.9M648.7 536.7V541.5M650.5 527.2V538.8M652.3 524.6V529.3M653.7 525.3V528.7M655.1 525.0V534.5M656.6 529.9V534.5M658.2 532.0V536.0M659.7 533.8V537.1M661.2 536.0V537.0M662.7 535.8V539.1M664.2 539.0V541.1M665.7 536.2V543.8M667.3 540.0V541.1M668.8 539.3V543.7M670.3 541.0V544.2M671.9 541.2V545.6M673.4 540.1V545.6M675.2 542.4V545.9M677.1 543.1V548.2M678.5 541.6V546.0M679.8 537.1V543.9M681.6 535.7V541.1M683.5 535.5V538.3M685.3 534.8V538.9M686.9 532.3V538.8M688.5 534.4V536.4M690.2 533.8V538.1M691.8 534.8V537.6M693.4 534.1V535.8M695.1 535.3V536.9M696.7 535.7V539.6M698.3 535.5V540.7M700.0 537.8V540.5M701.6 539.3V541.4M703.3 536.5V540.0M705.0 536.9V538.6M706.9 537.7V540.1M708.7 538.2V540.6M709.7 530.7V539.0M711.1 528.7V532.8M712.5 527.6V530.5M713.8 525.5V529.5M715.0 523.4V528.6M716.2 522.0V524.2M717.5 521.9V523.6M719.2 521.8V530.9M720.5 530.0V532.9M721.7 532.2V533.4M723.4 533.0V534.3M725.0 532.8V536.5M726.7 533.2V535.2M728.4 534.1V537.6M730.0 536.8V538.4M731.4 537.0V540.8M732.8 538.7V541.0M734.2 538.6V541.2M735.6 540.3V541.8M736.9 539.1V543.6M738.3 541.3V543.3M740.0 540.9V543.1M741.7 542.4V544.2M743.4 541.3V545.5M745.0 540.1V542.4M746.4 538.4V542.1M747.8 537.5V541.6M749.2 539.9V541.3M750.6 539.4V540.1M751.9 539.0V540.5M753.3 538.2V541.0M754.7 537.7V540.4M756.1 539.6V542.3M757.5 540.6V542.3M758.9 539.9V543.8M760.3 540.5V543.4M761.7 542.2V544.4M763.4 540.7V544.0M765.0 541.8V543.8M766.4 540.4V545.2M767.8 539.9V541.9M769.2 538.2V540.8M770.6 538.2V540.2M771.9 536.2V540.6M773.3 537.6V539.1M775.0 536.0V539.9M776.7 538.6V540.5M778.3 534.5V541.5M779.5 533.9V535.6M780.8 530.3V535.0M782.2 530.7V532.3M783.6 530.1V533.3M785.0 531.0V534.3M786.7 531.6V533.4M788.3 531.6V535.0M790.0 531.8V533.4M791.6 530.8V534.3M793.3 531.0V534.8M794.2 522.5V534.2M795.6 522.3V524.4M796.9 522.5V525.8M798.3 521.4V523.0M799.7 521.9V522.7M801.1 522.2V523.9M802.5 520.3V523.3M803.9 521.4V523.1M805.3 521.9V522.8M806.7 520.4V523.7M808.4 521.0V521.6M810.0 520.4V522.3M811.7 520.9V523.5M813.4 520.8V523.6M815.0 520.9V523.5M816.7 521.7V523.6M818.3 517.7V522.8M820.0 516.1V518.7M821.7 514.7V517.7M822.5 511.0V516.9M823.9 511.7V514.7M825.3 511.9V514.2M826.7 512.0V513.4M828.3 512.9V516.6M829.7 514.3V517.3M831.1 515.4V517.8M832.5 515.8V516.9M834.1 514.6V518.5M835.8 516.4V517.6M837.5 516.2V518.9M839.2 517.6V519.1M840.8 517.5V520.0M842.5 517.4V518.9M843.9 516.0V518.2M845.3 516.4V517.8M846.7 515.6V517.5M848.1 514.3V517.2M849.4 514.6V516.3M850.8 513.3V515.3M852.3 512.8V516.5M853.9 511.7V515.2M855.6 509.2V514.4M857.4 505.6V509.8M859.0 504.8V508.5M860.7 507.6V511.9M862.0 509.3V510.2M863.3 508.1V509.6M864.6 507.6V510.2M865.9 507.3V509.6M867.2 506.9V509.4M868.5 506.7V508.3M869.8 505.3V508.4M871.1 507.1V509.1M872.4 508.5V511.4M873.6 509.0V514.4M874.9 510.9V514.8M876.8 506.5V515.1M877.8 507.1V510.4M878.8 509.7V514.7M880.5 512.9V513.8M882.1 511.1V515.5M883.5 509.7V512.4M885.0 505.5V511.0M886.3 507.6V508.0M887.6 506.2V508.5M888.9 505.4V507.3M890.0 507.0V508.9M891.2 507.3V509.5M893.0 508.0V510.2M894.7 505.6V508.4M896.3 507.1V508.2M898.0 505.5V508.0M899.6 505.4V507.7M901.0 503.8V507.2M902.5 502.8V505.4M904.0 502.2V504.2M905.4 501.8V504.4M906.7 501.5V504.5M908.0 502.6V505.3M909.3 502.7V505.3M910.6 503.0V504.7M911.9 501.9V504.2M913.2 501.7V503.2M914.5 502.0V503.2M915.8 501.1V503.2M917.1 501.6V505.7M918.7 503.5V506.7M920.3 501.4V504.8M921.9 501.3V503.3M923.5 498.6V502.6M925.2 501.5V503.1M926.8 500.9V504.2M928.1 501.5V503.5M929.4 501.5V504.5M930.7 501.3V502.4M932.2 501.1V502.2M933.6 496.4V501.5M934.9 496.0V500.0M936.2 496.1V498.2M937.5 496.1V496.8M939.1 496.3V497.2M940.7 496.7V498.7M942.3 496.4V497.9M943.9 495.0V497.4M945.6 495.4V498.1M947.2 495.3V498.1M948.8 494.8V498.3M950.4 495.4V498.0M952.0 494.5V496.9M953.3 494.1V496.6M954.6 493.2V495.0M955.9 493.2V495.5M957.3 492.0V493.5M958.8 490.7V492.2M960.3 489.3V491.6M961.8 487.8V490.1M963.2 488.0V489.8M964.7 487.6V489.1M966.6 488.4V494.7M967.9 493.3V497.9M969.1 497.3V502.6M970.3 496.3V502.6M971.5 496.0V498.7M973.4 491.9V496.4M974.8 492.0V496.5M976.3 492.6V496.6M978.0 496.5V497.3M979.8 495.1V497.3M981.5 492.2V496.4M983.1 492.2V494.6M984.3 488.9V493.7M985.5 485.0V489.8M986.6 483.1V488.4M987.8 483.9V486.0M989.0 485.5V486.7M190.8 408.0V430.0M203.9 455.0V484.0M206.1 438.0V460.0M217.8 437.0V460.0M220.2 490.0V516.0M251.1 466.0V480.0M253.9 490.0V521.7M260.6 459.0V475.0M270.6 545.0V556.4M337.8 482.2V492.0M340.7 500.0V513.3M405.6 480.0V490.0M509.6 463.0V472.0M570.8 452.0V462.0M608.3 525.0V543.7M611.6 527.0V538.0M615.3 530.0V541.0M868.5 502.6V508.0M902.5 497.9V504.0M964.7 485.0V490.0M986.6 477.3V486.0M868.3 502.5V507.0" stroke="#0b0b0b" stroke-width="1" fill="none"/>
<path d="M206.5 455V462M209 457V465M212 458V464M221.5 490V505M223.5 493V507M226 495V508M228.5 498V506M247 478V488M249.5 476V486M256 488V497M258.5 487V496M194.5 410V416M196.5 411V417" stroke="#0b0b0b" stroke-width="1.7" fill="none"/>
<!-- axes / frame -->
<rect x="0" y="343" width="1200" height="1.5" fill="#6e6e6e"/>
<rect x="1133" y="0" width="1" height="361" fill="#4a4a4a"/>
<rect x="0" y="361.9" width="1200" height="2.2" fill="#444"/>
<rect x="0" y="363" width="1.3" height="357" fill="#0c0c0c"/>
<rect x="1198.8" y="363" width="1.2" height="357" fill="#0c0c0c"/>
<rect x="1158.2" y="364" width="1" height="356" fill="#444"/>
<rect x="0" y="703.8" width="1200" height="1.1" fill="#444"/>
<!-- dino -->
<path d="M151 340.3L156.5 334.5C157.8 333.3 160 332.9 161.5 333.5L163 334.5C163.8 334.6 164.5 334.5 164.5 333.5V329.5C164.5 328.8 164 328.6 163.3 328.6H162C161.2 328.3 161.2 326.6 162 326.2C163.2 325.5 165.2 325.4 166 326.2C166.8 327 167.2 328 167.2 329V336C167.1 337.5 165.5 339 164.6 340L164.3 342.6H162.5L161.5 340.5H158.5L157.8 342.7H156L155.5 340.5Z" fill="#fff" stroke="#111" stroke-width="1.05" stroke-linejoin="round"/>
<!-- hexagon settings -->
<path d="M1162.2 352.5L1164.5 348.5H1169.1L1171.4 352.5L1169.1 356.6H1164.5Z" fill="none" stroke="#222" stroke-width="1"/>
<ellipse cx="1166.8" cy="352.6" rx="1.6" ry="1.2" fill="none" stroke="#222" stroke-width="0.9"/>
<path d="M1190.7 10.5L1192.3 12.1L1193.9 10.5" fill="none" stroke="#1a1a1a" stroke-width="1.2"/>
<!-- symbol icons -->
<circle cx="12" cy="10.7" r="6" fill="#3a63e8"/>
<circle cx="11.7" cy="10.7" r="2.6" fill="none" stroke="#dfe8ff" stroke-width="1"/>
<path d="M12.2 10.7H15.4M13.2 9.2L15 8.4M13.2 12.2L15 13" stroke="#dfe8ff" stroke-width=".8" fill="none"/>
<circle cx="12" cy="373" r="6" fill="#ee9a3c"/>
<!-- flag -->
<path d="M276.6 368.9H284.6L282.6 372.9L284.6 376.8H276.6Z" fill="#3a6df0"/>
<!-- TV PRO logo -->
<path d="M8 684.7H16.8V694.2H12.1V689H8Z" fill="#111"/>
<circle cx="20" cy="686.6" r="1.55" fill="#111"/>
<path d="M23.3 684.7H27.6L23.4 694.2H18.3Z" fill="#111"/>
<path d="M30.9 684.7H53.8L50 694.2H27.5Z" fill="#111"/>
</svg>
<div class="title" style="top:3.5px"><span style="letter-spacing:.09px">Crypto Total Market Cap Excluding BTC, $ · </span><span style="letter-spacing:-.23px">1W · CRYPTOCAP</span></div>
<div class="title" style="top:365.7px;left:21.3px;font-size:10.5px"><span style="letter-spacing:.1px">Market Cap BTC Dominance, % · </span><span style="letter-spacing:-.24px">1W · CRYPTOCAP</span></div>
<div style="position:absolute;left:9.5px;top:368.9px;font-size:6.6px;line-height:8px;color:#fff3e0;font-weight:bold;width:5px;text-align:center;transform:skewX(-8deg)">₿</div>
<div style="position:absolute;left:33.7px;top:686.2px;font-size:6.3px;line-height:7px;font-weight:bold;color:#fff;letter-spacing:.4px">PRO</div>
<div class="ann" style="left:137.0px;top:302.2px;font-size:8.45px;transform:scaleX(0.923);">BULL</div>
<div class="ann" style="left:327.0px;top:255.0px;font-size:8.45px;transform:scaleX(0.923);">BULL</div>
<div class="ann" style="left:451.7px;top:119.8px;font-size:8.45px;letter-spacing:0.62px;margin-left:0.31px;">2017-2019</div>
<div class="ann" style="left:452.5px;top:135.7px;font-size:8.45px;transform:scaleX(0.943);">QT1</div>
<div class="ann" style="left:634.2px;top:119.5px;font-size:8.45px;transform:scaleX(0.923);">BULL</div>
<div class="ann" style="left:648.0px;top:333.2px;font-size:8.8px;letter-spacing:0.48px;margin-left:0.24px;">2020-2022</div>
<div class="ann" style="left:862.6px;top:29.0px;font-size:8.45px;transform:scaleX(0.923);">BULL</div>
<div class="ann" style="left:850.6px;top:70.6px;font-size:8.45px;letter-spacing:0.38px;margin-left:0.19px;">2022-Now</div>
<div class="ann" style="left:850.0px;top:79.0px;font-size:8.45px;transform:scaleX(0.943);">QT2</div>
<div class="ann" style="left:169.2px;top:559.6px;font-size:8.45px;transform:scaleX(0.944);">ALTSEASON</div>
<div class="ann" style="left:271.1px;top:558.4px;font-size:8.45px;letter-spacing:0.68px;margin-left:0.34px;">2017-2019</div>
<div class="ann" style="left:270.7px;top:566.9px;font-size:8.45px;transform:scaleX(0.943);">QT1</div>
<div class="ann" style="left:496.1px;top:550.1px;font-size:8.45px;transform:scaleX(0.944);">ALTSEASON</div>
<div class="ann" style="left:535.0px;top:635.0px;font-size:8.45px;letter-spacing:0.62px;margin-left:0.31px;">2020-2022</div>
<div class="ann" style="left:534.6px;top:643.0px;font-size:8.45px;transform:scaleX(0.911);">QE4</div>
<div class="ann" style="left:804.0px;top:550.2px;font-size:8.45px;letter-spacing:0.38px;margin-left:0.19px;">2022-Now</div>
<div class="ann" style="left:804.0px;top:558.0px;font-size:8.45px;transform:scaleX(0.943);">QT2</div>
<div class="tl" style="left:153.3px;top:346.5px">Apr</div>
<div class="tl b" style="left:210.0px;top:346.5px">2015</div>
<div class="tl b" style="left:285.5px;top:346.5px">2016</div>
<div class="tl b" style="left:361.0px;top:346.5px">2017</div>
<div class="tl b" style="left:436.6px;top:346.5px">2018</div>
<div class="tl b" style="left:512.1px;top:346.5px">2019</div>
<div class="tl b" style="left:587.6px;top:346.5px">2020</div>
<div class="tl b" style="left:663.1px;top:346.5px">2021</div>
<div class="tl b" style="left:738.6px;top:346.5px">2022</div>
<div class="tl b" style="left:814.2px;top:346.5px">2023</div>
<div class="tl b" style="left:889.7px;top:346.5px">2024</div>
<div class="tl b" style="left:965.2px;top:346.5px">2025</div>
<div class="tl b" style="left:1040.7px;top:346.5px">2026</div>
<div class="tl" style="left:-15.0px;top:707px">Jul</div>
<div class="tl b" style="left:35.7px;top:707px">2016</div>
<div class="tl" style="left:86.4px;top:707px">Jul</div>
<div class="tl b" style="left:137.2px;top:707px">2017</div>
<div class="tl" style="left:187.9px;top:707px">Jul</div>
<div class="tl b" style="left:238.6px;top:707px">2018</div>
<div class="tl" style="left:289.3px;top:707px">Jul</div>
<div class="tl b" style="left:340.0px;top:707px">2019</div>
<div class="tl" style="left:390.8px;top:707px">Jul</div>
<div class="tl b" style="left:441.5px;top:707px">2020</div>
<div class="tl" style="left:492.2px;top:707px">Jul</div>
<div class="tl b" style="left:542.9px;top:707px">2021</div>
<div class="tl" style="left:593.6px;top:707px">Jul</div>
<div class="tl b" style="left:644.4px;top:707px">2022</div>
<div class="tl" style="left:695.1px;top:707px">Jul</div>
<div class="tl b" style="left:745.8px;top:707px">2023</div>
<div class="tl" style="left:796.5px;top:707px">Jul</div>
<div class="tl b" style="left:847.2px;top:707px">2024</div>
<div class="tl" style="left:898.0px;top:707px">Jul</div>
<div class="tl b" style="left:948.7px;top:707px">2025</div>
<div class="tl" style="left:999.4px;top:707px">Jul</div>
<div class="tl b" style="left:1050.1px;top:707px">2026</div>
<div class="tl" style="left:1100.8px;top:707px">Jul</div>
<div class="pl" style="left:1139px;top:33.5px">2 T</div>
<div class="pl" style="left:1139px;top:43.8px">1.2 T</div>
<div class="pl" style="left:1139px;top:51.5px">+3,364,494.94%</div>
<div class="pl" style="left:1139px;top:70.2px">320 B</div>
<div class="pl" style="left:1139px;top:89.5px">120 B</div>
<div class="pl" style="left:1139px;top:106.8px">50 B</div>
<div class="pl" style="left:1139px;top:125.2px">20 B</div>
<div class="pl" style="left:1139px;top:143.5px">8 B</div>
<div class="pl" style="left:1139px;top:161.8px">3.2 B</div>
<div class="pl" style="left:1139px;top:181.0px">1.2 B</div>
<div class="pl" style="left:1139px;top:198.5px">500 M</div>
<div class="pl" style="left:1139px;top:216.8px">200 M</div>
<div class="pl" style="left:1139px;top:235.2px">80 M</div>
<div class="pl" style="left:1139px;top:253.5px">32 M</div>
<div class="pl" style="left:1139px;top:272.7px">12 M</div>
<div class="pl" style="left:1139px;top:290.2px">5 M</div>
<div class="pl" style="left:1139px;top:308.5px">2 M</div>
<div class="pl" style="left:1164px;top:402.5px">90.00%</div>
<div class="pl" style="left:1164px;top:429.8px">80.00%</div>
<div class="pl" style="left:1164px;top:457.2px">70.00%</div>
<div class="pl" style="left:1164px;top:511.8px">50.00%</div>
<div class="pl" style="left:1164px;top:539.1px">40.00%</div>
<div class="pl" style="left:1164px;top:566.5px">30.00%</div>
<div class="pl" style="left:1164px;top:593.8px">20.00%</div>
<div class="pl" style="left:1164px;top:621.1px">10.00%</div>
<div class="pl" style="left:1164px;top:648.5px">0.00%</div>
<div class="pl" style="left:1164px;top:675.8px">−10.00%</div>
<div class="unit" style="left:1136px;top:2.5px;width:60.5px;height:17.5px;line-height:16.4px;padding-left:1.6px;font-size:7.8px">USD</div>
<div class="unit" style="left:1161.7px;top:365px;width:34.5px;height:16.8px;line-height:15.8px;padding-left:2.2px;font-size:7.6px">%</div>
<div class="btn" style="left:1152.2px;top:326px;width:12.7px;height:14.7px;line-height:12.3px;-webkit-text-stroke:.25px #1a1a1a">A</div>
<div class="btn on" style="left:1168px;top:325.8px;width:13.1px;height:14.9px;line-height:12.5px;font-size:9px">L</div>
<div class="btn" style="left:1164.6px;top:686.8px;width:12.3px;height:14px;line-height:12.6px">A</div>
<div class="btn" style="left:1180.2px;top:686.8px;width:12.6px;height:14px;line-height:12.6px">L</div>
<div class="last">61.36%<br>−37.88%</div>
</body></html>
